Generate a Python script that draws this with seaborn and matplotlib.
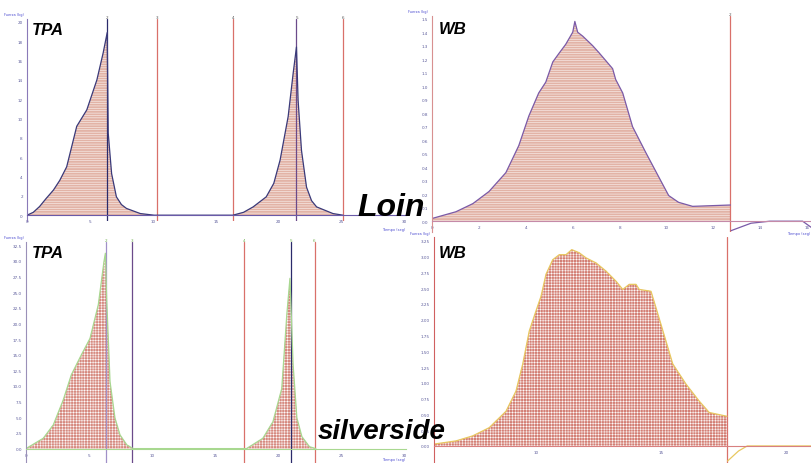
import numpy as np
import pandas as pd
import seaborn as sns
import matplotlib.pyplot as plt

# ---- data ----
# Loin, TPA (two compression cycles)
loin_tpa_t = [0, 0.5, 1.0, 1.5, 2.1, 2.6, 3.15, 3.95, 4.75, 5.55, 6.05, 6.37, 6.45, 6.72, 7.1, 7.5,
              7.9, 9.0, 10.1,
              16.35, 17.2, 17.96, 19.0, 19.6, 20.1, 20.74, 21.14, 21.4, 21.53, 21.8, 22.2, 22.6,
              23.0, 24.3, 25.1]
loin_tpa_f = [0, 0.3, 0.9, 1.7, 2.6, 3.6, 5.0, 9.2, 10.9, 14.0, 16.8, 18.9, 8.5, 4.3, 1.9, 1.1,
              0.7, 0.17, 0,
              0, 0.3, 0.86, 1.9, 3.3, 5.7, 10.2, 14.7, 17.4, 11.9, 6.7, 2.9, 1.5,
              0.86, 0.17, 0]
loin_tpa_marks = [6.35, 10.3, 16.35, 21.4, 25.1]

# Loin, Warner-Bratzler
loin_wb_t = [0, 1.02, 1.74, 2.43, 3.15, 3.70, 4.13, 4.55, 4.85, 5.15, 5.40, 5.70, 6.0, 6.09,
             6.21, 6.43, 6.85, 7.11, 7.70, 7.83, 8.13, 8.55, 9.11, 9.66, 10.09, 10.51, 11.11, 12.72]
loin_wb_f = [0.02, 0.07, 0.13, 0.22, 0.36, 0.56, 0.78, 0.95, 1.03, 1.18, 1.24, 1.31, 1.40, 1.48,
             1.40, 1.37, 1.30, 1.25, 1.13, 1.05, 0.95, 0.70, 0.51, 0.33, 0.19, 0.14, 0.11, 0.12]
loin_wb_tail_t = [12.75, 13.6, 14.4, 15.8, 16.2]
loin_wb_tail_f = [-0.07, -0.015, 0.0, 0.0, -0.05]
loin_wb_mark = 12.72

# Silverside, TPA
silv_tpa_t = [0, 1.37, 2.17, 2.96, 3.6, 4.4, 5.08, 5.74, 6.19, 6.3, 6.4, 6.67, 7.06, 7.46, 8.0, 8.5,
              17.5, 18.8, 19.6, 20.3, 20.7, 20.95, 21.2, 21.5, 21.9, 22.5, 23.0]
silv_tpa_f = [0, 1.65, 3.8, 7.8, 11.8, 15.0, 17.6, 23.0, 29.9, 31.2, 24.0, 10.7, 4.9, 2.2, 0.6, 0,
              0, 1.65, 4.3, 9.6, 21.4, 27.2, 13.4, 4.9, 1.9, 0.3, 0]
silv_tpa_marks = [6.35, 8.4, 17.3, 21.0, 22.9]

# Silverside, Warner-Bratzler
silv_wb_t = [5.93, 6.8, 7.47, 8.13, 8.8, 9.2, 9.47, 9.73, 10.0, 10.2, 10.4, 10.67, 10.93, 11.2,
             11.43, 11.73, 12.0, 12.4, 12.8, 13.2, 13.47, 13.73, 14.0, 14.13, 14.6, 14.8, 15.2,
             15.47, 16.0, 16.53, 16.93, 17.64]
silv_wb_f = [0.03, 0.08, 0.16, 0.29, 0.55, 0.87, 1.30, 1.82, 2.14, 2.37, 2.72, 2.95, 3.03, 3.03,
             3.11, 3.06, 2.98, 2.90, 2.77, 2.61, 2.48, 2.56, 2.56, 2.48, 2.45, 2.19, 1.66,
             1.30, 0.98, 0.71, 0.53, 0.47]
silv_wb_tail_t = [17.66, 18.1, 18.45, 21.0]
silv_wb_tail_f = [-0.24, -0.08, 0.0, 0.0]
silv_wb_mark = 17.64

mark_labels = ['2', '3', '4', '5', '6']

sns.set_style('white')
plt.rcParams['hatch.linewidth'] = 0.35

W, H = 812, 464
fig = plt.figure(figsize=(W / 100, H / 100), dpi=100)

RED = '#d9706a'
PURPLE = '#6b4a8a'
NAVY = '#2b2b6b'
TICK = '#5a5a9a'


def place(x0, x1, y_top, y_bot):
    # axes rectangle from pixel bounds
    return fig.add_axes([x0 / W, 1 - y_bot / H, (x1 - x0) / W, (y_bot - y_top) / H])


def style_axes(ax, xlim, ylim, xticks, yticks, yfmt, lcol, bcol):
    ax.set_xlim(*xlim)
    ax.set_ylim(*ylim)
    ax.set_xticks(xticks)
    ax.set_yticks(yticks)
    ax.set_yticklabels([yfmt.format(v) for v in yticks])
    ax.set_xticklabels([str(v) for v in xticks])
    ax.patch.set_alpha(0)
    for s in ['top', 'right']:
        ax.spines[s].set_visible(False)
    ax.spines['bottom'].set_position(('data', 0))
    ax.spines['left'].set_color(lcol)
    ax.spines['bottom'].set_color(bcol)
    ax.spines['left'].set_linewidth(0.8)
    ax.spines['bottom'].set_linewidth(0.8)
    ax.tick_params(axis='both', labelsize=3, colors=TICK, length=2, width=0.5, pad=1)
    ax.set_xlabel('')
    ax.set_ylabel('')


def curve(ax, t, f, line, face, hatch):
    ax.fill_between(t, f, 0, facecolor=face, edgecolor='white', hatch=hatch, linewidth=0)
    sns.lineplot(x=t, y=f, ax=ax, color=line, linewidth=0.9, estimator=None, sort=False)


def marks(ax, ts, cols, labcol, ytop):
    for t, c, lab in zip(ts, cols, mark_labels):
        ax.axvline(t, color=c, linewidth=0.9)
        ax.text(t, ytop, lab, fontsize=3, color=labcol, ha='center', va='bottom', clip_on=False)


# ---- Loin TPA ----
ax1 = place(27, 406, 20, 222)
marks(ax1, loin_tpa_marks, [NAVY, RED, RED, PURPLE, RED], '#555', 20.3)
curve(ax1, loin_tpa_t, loin_tpa_f, '#3a3a7a', '#e2b3a6', '-------')
style_axes(ax1, (0, 30.1), (-0.6, 20.3), list(range(0, 31, 5)), list(range(0, 21, 2)),
           '{:d}', '#8a7ab8', '#6a5aa8')

# ---- Loin WB ----
ax2 = place(432, 812, 17, 233)
ax2.axvline(loin_wb_mark, color=RED, linewidth=0.9)
ax2.text(loin_wb_mark, 1.52, '2', fontsize=3, color='#555', ha='center', va='bottom', clip_on=False)
curve(ax2, loin_wb_t, loin_wb_f, '#7a5aa8', '#e2b3a6', '-------')
sns.lineplot(x=loin_wb_tail_t, y=loin_wb_tail_f, ax=ax2, color='#7a5aa8', linewidth=0.9,
             estimator=None, sort=False)
style_axes(ax2, (0, 16.2), (-0.08, 1.52), list(range(0, 17, 2)),
           list(np.round(np.arange(0, 1.51, 0.1), 1)), '{:.1f}', '#d89090', '#c58aa8')

# ---- Silverside TPA ----
ax3 = place(26, 406, 243, 464)
marks(ax3, silv_tpa_marks, ['#a090c8', PURPLE, RED, NAVY, RED], '#70b050', 33.0)
curve(ax3, silv_tpa_t, silv_tpa_f, '#a8d890', '#d68a80', '++++++')
style_axes(ax3, (0, 30.16), (-2.3, 33.0), list(range(0, 31, 5)),
           list(np.arange(0, 32.6, 2.5)), '{:.1f}', '#9a90b8', '#a8d890')

# ---- Silverside WB ----
ax4 = place(434, 812, 238, 464)
ax4.axvline(silv_wb_mark, color=RED, linewidth=0.9)
curve(ax4, silv_wb_t, silv_wb_f, '#e8c860', '#d37f75', '++++++')
sns.lineplot(x=silv_wb_tail_t, y=silv_wb_tail_f, ax=ax4, color='#e8c860', linewidth=0.9,
             estimator=None, sort=False)
style_axes(ax4, (5.92, 21.04), (-0.27, 3.31), [10, 15, 20],
           list(np.arange(0, 3.26, 0.25)), '{:.2f}', '#d06060', '#d88080')

# tiny axis titles of the instrument software
for x, y, s in [(4, 17, 'Fuerza (kg)'), (408, 14, 'Fuerza (kg)'), (4, 240, 'Fuerza (kg)'),
                (410, 236, 'Fuerza (kg)')]:
    fig.text(x / W, 1 - y / H, s, fontsize=2.5, color='#4a4ad0', va='bottom')
for x, y, s in [(405, 232, 'Tiempo (seg)'), (810, 236, 'Tiempo (seg)'), (405, 462, 'Tiempo (seg)')]:
    fig.text(x / W, 1 - y / H, s, fontsize=2.5, color='#4a4ad0', ha='right', va='bottom')

# big panel labels
big = dict(family=['Liberation Sans', 'DejaVu Sans'], weight='bold', style='italic',
           color='black')
fig.text(32 / W, 1 - 35 / H, 'TPA', fontsize=12, **big)
fig.text(439 / W, 1 - 34 / H, 'WB', fontsize=12, **big)
fig.text(32 / W, 1 - 258 / H, 'TPA', fontsize=12, **big)
fig.text(439 / W, 1 - 258 / H, 'WB', fontsize=12, **big)
fig.text(357 / W, 1 - 216 / H, 'Loin', fontsize=23, **big)
fig.text(318 / W, 1 - 439 / H, 'silverside', fontsize=20, **big)

fig.savefig('out.png', dpi=100)
